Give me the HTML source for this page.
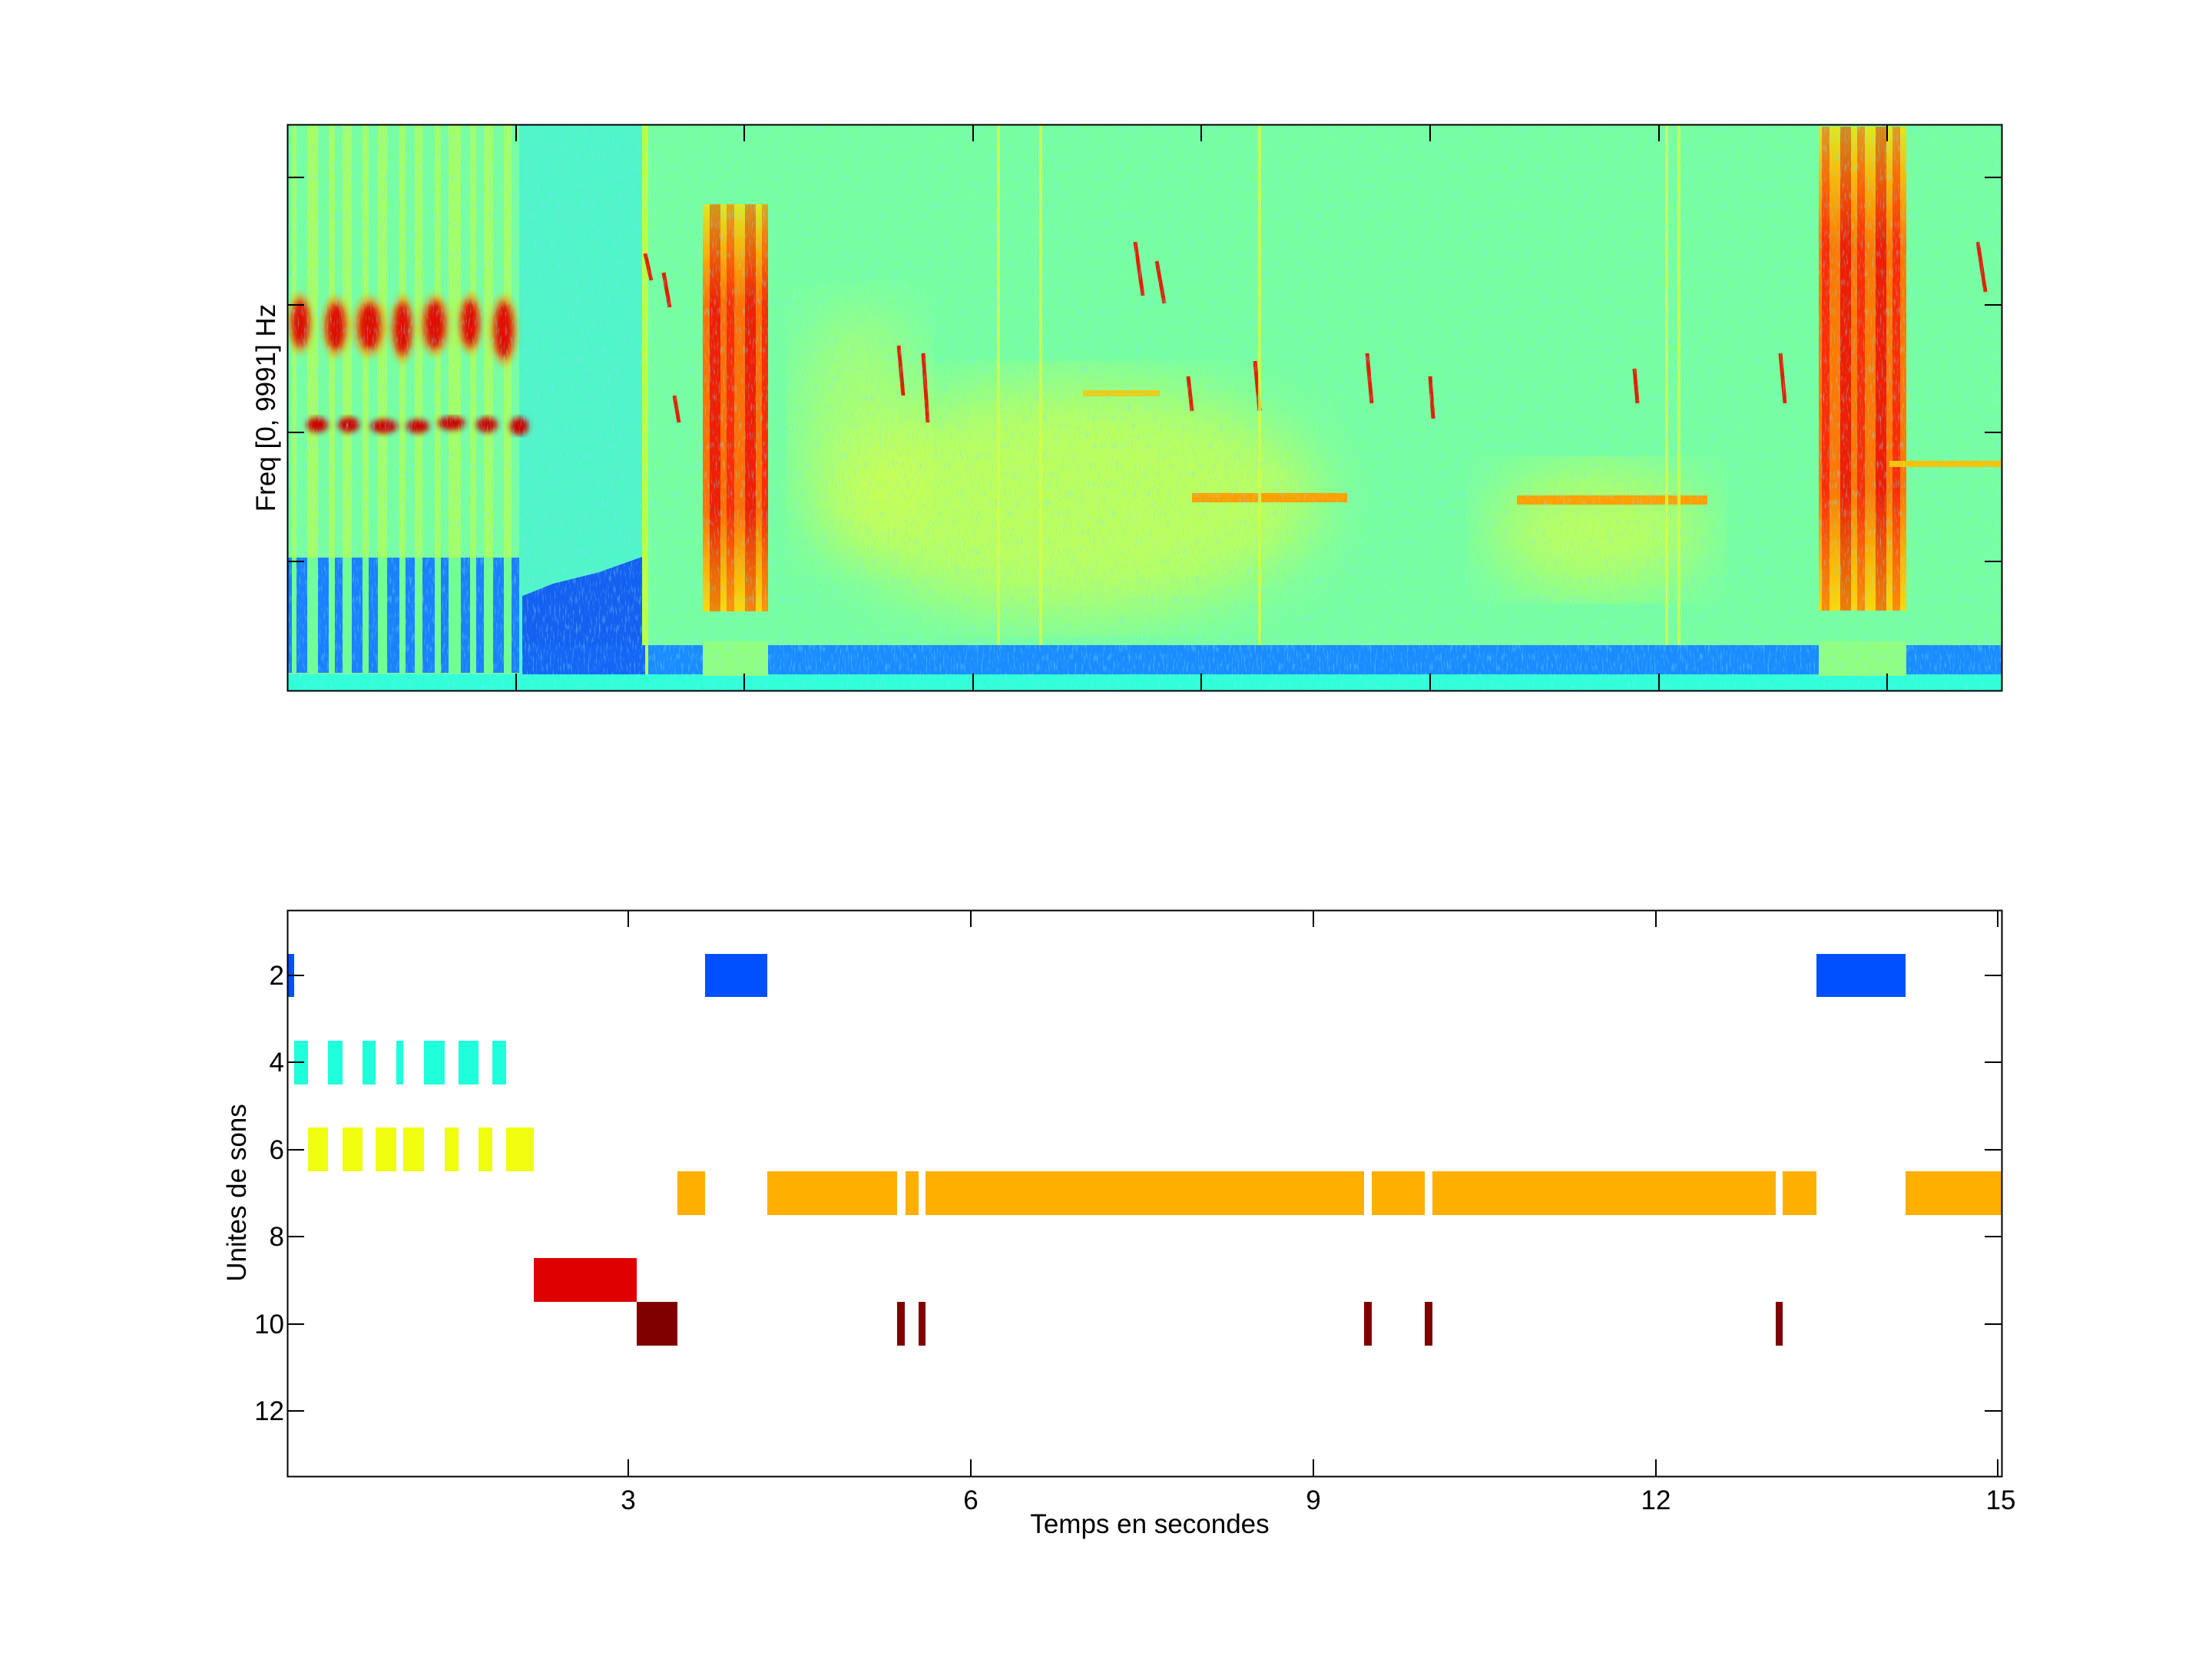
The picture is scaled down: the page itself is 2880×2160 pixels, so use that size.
<!DOCTYPE html>
<html><head><meta charset="utf-8"><style>
html,body{margin:0;padding:0;background:#fff;}
svg{display:block;font-family:"Liberation Sans",sans-serif;}
</style></head><body>
<svg width="2880" height="2160" viewBox="0 0 2880 2160" xmlns="http://www.w3.org/2000/svg">
<defs>
<filter id="noise" x="0" y="0" width="100%" height="100%">
<feTurbulence type="fractalNoise" baseFrequency="0.5 0.08" numOctaves="2" seed="3"/>
<feColorMatrix type="matrix" values="0 0 0 0 0.2  0 0 0 0 0.8  0 0 0 0 1  0 0 0 3 -1.6"/>
</filter>
<filter id="blur4"><feGaussianBlur stdDeviation="4"/></filter>
<filter id="blur40"><feGaussianBlur stdDeviation="40"/></filter>
<clipPath id="c1"><rect x="374" y="162" width="2232" height="737"/></clipPath>
<linearGradient id="bars" x1="0" y1="0" x2="0" y2="1">
<stop offset="0" stop-color="#c8ff30"/><stop offset="0.12" stop-color="#ff9000"/><stop offset="0.25" stop-color="#ff2000"/><stop offset="0.75" stop-color="#ff2000"/><stop offset="0.88" stop-color="#ff9000"/><stop offset="1" stop-color="#ffe000"/>
</linearGradient>
<pattern id="stripes" width="46" height="10" patternUnits="userSpaceOnUse">
<rect width="46" height="10" fill="#ffd000"/><rect x="4" width="14" height="10" fill="#e01000"/><rect x="26" width="10" height="10" fill="#ff3000"/>
</pattern>
</defs>

<g clip-path="url(#c1)">
<rect x="374" y="162" width="2232" height="737" fill="#78ffa0"/>
<rect x="676" y="162" width="160" height="737" fill="#50f5c8"/>
<g fill="#b8ff50" opacity="0.7">
<rect x="380" y="162" width="6" height="700"/><rect x="400" y="162" width="14" height="700"/><rect x="428" y="162" width="8" height="700"/><rect x="446" y="162" width="12" height="700"/><rect x="472" y="162" width="8" height="700"/><rect x="492" y="162" width="12" height="700"/><rect x="520" y="162" width="8" height="700"/><rect x="540" y="162" width="10" height="700"/><rect x="566" y="162" width="8" height="700"/><rect x="584" y="162" width="16" height="700"/><rect x="612" y="162" width="8" height="700"/><rect x="630" y="162" width="12" height="700"/><rect x="656" y="162" width="10" height="700"/>
</g>
<ellipse cx="1400" cy="650" rx="320" ry="150" fill="#e8ff30" opacity="0.6" filter="url(#blur40)"/>
<ellipse cx="2080" cy="690" rx="140" ry="80" fill="#e8ff30" opacity="0.6" filter="url(#blur40)"/>
<ellipse cx="1120" cy="560" rx="80" ry="160" fill="#e0ff40" opacity="0.45" filter="url(#blur40)"/>
<g>
<rect x="374" y="726" width="302" height="150" fill="#1a80ff"/>
<g fill="#70ff90">
<rect x="380" y="726" width="6" height="150"/><rect x="400" y="726" width="14" height="150"/><rect x="428" y="726" width="8" height="150"/><rect x="446" y="726" width="12" height="150"/><rect x="472" y="726" width="8" height="150"/><rect x="492" y="726" width="12" height="150"/><rect x="520" y="726" width="8" height="150"/><rect x="540" y="726" width="10" height="150"/><rect x="566" y="726" width="8" height="150"/><rect x="584" y="726" width="16" height="150"/><rect x="612" y="726" width="8" height="150"/><rect x="630" y="726" width="12" height="150"/><rect x="656" y="726" width="10" height="150"/>
</g>
</g>
<polygon points="680,776 720,760 780,745 836,725 836,880 680,880" fill="#1460f0"/>
<rect x="836" y="162" width="8" height="737" fill="#c0ff40"/>
<rect x="844" y="840" width="1762" height="38" fill="#1a8cff"/>
<rect x="680" y="840" width="160" height="38" fill="#1466f5"/>
<rect x="374" y="878" width="2232" height="21" fill="#30ffd8"/>
<rect x="915" y="835" width="85" height="45" fill="#90ff80"/>
<rect x="2368" y="835" width="114" height="45" fill="#90ff80"/>
<rect x="915" y="266" width="85" height="530" fill="url(#stripes)" opacity="0.95"/>
<rect x="915" y="266" width="85" height="530" fill="url(#bars)" opacity="0.55"/>
<rect x="2368" y="165" width="114" height="630" fill="url(#stripes)" opacity="0.95"/>
<rect x="2368" y="165" width="114" height="630" fill="url(#bars)" opacity="0.5"/>
<g fill="#ff9000" opacity="0.6" filter="url(#blur4)">
<ellipse cx="391" cy="421" rx="16" ry="40"/><ellipse cx="437" cy="425" rx="18" ry="40"/><ellipse cx="481" cy="425" rx="22" ry="40"/><ellipse cx="524" cy="428" rx="16" ry="44"/><ellipse cx="566" cy="423" rx="20" ry="40"/><ellipse cx="612" cy="421" rx="16" ry="40"/><ellipse cx="656" cy="430" rx="18" ry="46"/>
</g>
<g fill="#e01000" filter="url(#blur4)">
<ellipse cx="391" cy="421" rx="11" ry="30"/><ellipse cx="437" cy="425" rx="12" ry="30"/><ellipse cx="481" cy="425" rx="14" ry="30"/><ellipse cx="524" cy="428" rx="11" ry="34"/><ellipse cx="566" cy="423" rx="13" ry="31"/><ellipse cx="612" cy="421" rx="11" ry="30"/><ellipse cx="656" cy="430" rx="12" ry="36"/>
</g>
<g fill="#cc0000" filter="url(#blur4)">
<ellipse cx="413" cy="553" rx="14" ry="10"/><ellipse cx="454" cy="553" rx="14" ry="10"/><ellipse cx="500" cy="555" rx="18" ry="9"/><ellipse cx="544" cy="555" rx="15" ry="9"/><ellipse cx="588" cy="551" rx="18" ry="9"/><ellipse cx="634" cy="553" rx="14" ry="10"/><ellipse cx="676" cy="555" rx="12" ry="12"/>
</g>
<rect x="1552" y="642" width="202" height="12" fill="#ffa000"/>
<rect x="1975" y="645" width="248" height="12" fill="#ffa000"/>
<rect x="1410" y="508" width="100" height="8" fill="#ffc000" opacity="0.8"/>
<rect x="2460" y="600" width="146" height="8" fill="#ffc000"/>
<g stroke="#e02000" stroke-width="5" fill="none">
<line x1="840" y1="330" x2="848" y2="365"/><line x1="864" y1="355" x2="872" y2="400"/><line x1="878" y1="515" x2="884" y2="550"/>
<line x1="1170" y1="450" x2="1176" y2="515"/><line x1="1202" y1="460" x2="1208" y2="550"/>
<line x1="1478" y1="315" x2="1488" y2="385"/><line x1="1506" y1="340" x2="1516" y2="395"/>
<line x1="1547" y1="490" x2="1552" y2="535"/><line x1="1634" y1="470" x2="1640" y2="535"/>
<line x1="1780" y1="460" x2="1786" y2="525"/><line x1="1862" y1="490" x2="1866" y2="545"/>
<line x1="2128" y1="480" x2="2132" y2="525"/><line x1="2318" y1="460" x2="2324" y2="525"/>
<line x1="2575" y1="315" x2="2585" y2="380"/>
</g>
<g stroke="#d8ff40" stroke-width="4" opacity="0.8">
<line x1="1300" y1="162" x2="1300" y2="840"/><line x1="1355" y1="162" x2="1355" y2="840"/><line x1="1640" y1="162" x2="1640" y2="840"/><line x1="2170" y1="162" x2="2170" y2="840"/><line x1="2186" y1="162" x2="2186" y2="840"/>
</g>
<rect x="374" y="162" width="2232" height="737" filter="url(#noise)" opacity="0.5"/>
</g>
<rect x="374.5" y="162.5" width="2232" height="737" fill="none" stroke="#000" stroke-width="2"/>
<g stroke="#000" stroke-width="2">
<line x1="672" y1="162" x2="672" y2="184"/><line x1="969" y1="162" x2="969" y2="184"/><line x1="1267" y1="162" x2="1267" y2="184"/><line x1="1564" y1="162" x2="1564" y2="184"/><line x1="1862" y1="162" x2="1862" y2="184"/><line x1="2160" y1="162" x2="2160" y2="184"/><line x1="2457" y1="162" x2="2457" y2="184"/>
<line x1="672" y1="899" x2="672" y2="877"/><line x1="969" y1="899" x2="969" y2="877"/><line x1="1267" y1="899" x2="1267" y2="877"/><line x1="1564" y1="899" x2="1564" y2="877"/><line x1="1862" y1="899" x2="1862" y2="877"/><line x1="2160" y1="899" x2="2160" y2="877"/><line x1="2457" y1="899" x2="2457" y2="877"/>
<line x1="374" y1="231" x2="396" y2="231"/><line x1="374" y1="397" x2="396" y2="397"/><line x1="374" y1="563" x2="396" y2="563"/><line x1="374" y1="731" x2="396" y2="731"/>
<line x1="2606" y1="231" x2="2584" y2="231"/><line x1="2606" y1="397" x2="2584" y2="397"/><line x1="2606" y1="563" x2="2584" y2="563"/><line x1="2606" y1="731" x2="2584" y2="731"/>
</g>
<text x="0" y="0" font-size="35" text-anchor="middle" transform="translate(358,531) rotate(-90)">Freq [0, 9991] Hz</text>

<g>
<rect x="374" y="1242" width="9" height="56" fill="#0050ff"/>
<rect x="918" y="1242" width="81" height="56" fill="#0050ff"/>
<rect x="2365" y="1242" width="116" height="56" fill="#0050ff"/>
<g fill="#20ffdc">
<rect x="383" y="1355" width="18" height="57"/><rect x="427" y="1355" width="19" height="57"/><rect x="472" y="1355" width="17" height="57"/><rect x="516" y="1355" width="9" height="57"/><rect x="552" y="1355" width="27" height="57"/><rect x="597" y="1355" width="26" height="57"/><rect x="641" y="1355" width="18" height="57"/>
</g>
<g fill="#f0ff10">
<rect x="401" y="1468" width="26" height="57"/><rect x="446" y="1468" width="26" height="57"/><rect x="489" y="1468" width="27" height="57"/><rect x="525" y="1468" width="27" height="57"/><rect x="579" y="1468" width="18" height="57"/><rect x="623" y="1468" width="18" height="57"/><rect x="659" y="1468" width="36" height="57"/>
</g>
<g fill="#ffaf00">
<rect x="882" y="1525" width="36" height="57"/><rect x="999" y="1525" width="169" height="57"/><rect x="1179" y="1525" width="17" height="57"/><rect x="1205" y="1525" width="571" height="57"/><rect x="1786" y="1525" width="69" height="57"/><rect x="1865" y="1525" width="447" height="57"/><rect x="2321" y="1525" width="44" height="57"/><rect x="2481" y="1525" width="125" height="57"/>
</g>
<rect x="695" y="1638" width="134" height="57" fill="#df0000"/>
<g fill="#800000">
<rect x="829" y="1695" width="53" height="57"/><rect x="1168" y="1695" width="10" height="57"/><rect x="1196" y="1695" width="9" height="57"/><rect x="1776" y="1695" width="10" height="57"/><rect x="1855" y="1695" width="10" height="57"/><rect x="2312" y="1695" width="9" height="57"/>
</g>
</g>
<rect x="374.5" y="1185.5" width="2232" height="737" fill="none" stroke="#000" stroke-width="2"/>
<g stroke="#000" stroke-width="2">
<line x1="818" y1="1185" x2="818" y2="1207"/><line x1="1264" y1="1185" x2="1264" y2="1207"/><line x1="1710" y1="1185" x2="1710" y2="1207"/><line x1="2156" y1="1185" x2="2156" y2="1207"/><line x1="2601" y1="1185" x2="2601" y2="1207"/>
<line x1="818" y1="1922" x2="818" y2="1900"/><line x1="1264" y1="1922" x2="1264" y2="1900"/><line x1="1710" y1="1922" x2="1710" y2="1900"/><line x1="2156" y1="1922" x2="2156" y2="1900"/><line x1="2601" y1="1922" x2="2601" y2="1900"/>
<line x1="374" y1="1270" x2="396" y2="1270"/><line x1="374" y1="1383" x2="396" y2="1383"/><line x1="374" y1="1497" x2="396" y2="1497"/><line x1="374" y1="1610" x2="396" y2="1610"/><line x1="374" y1="1724" x2="396" y2="1724"/><line x1="374" y1="1837" x2="396" y2="1837"/>
<line x1="2606" y1="1270" x2="2584" y2="1270"/><line x1="2606" y1="1383" x2="2584" y2="1383"/><line x1="2606" y1="1497" x2="2584" y2="1497"/><line x1="2606" y1="1610" x2="2584" y2="1610"/><line x1="2606" y1="1724" x2="2584" y2="1724"/><line x1="2606" y1="1837" x2="2584" y2="1837"/>
</g>
<g font-size="35" text-anchor="end">
<text x="370" y="1282">2</text><text x="370" y="1395">4</text><text x="370" y="1509">6</text><text x="370" y="1622">8</text><text x="370" y="1736">10</text><text x="370" y="1849">12</text>
</g>
<g font-size="35" text-anchor="middle">
<text x="818" y="1965">3</text><text x="1264" y="1965">6</text><text x="1710" y="1965">9</text><text x="2156" y="1965">12</text><text x="2605" y="1965">15</text>
<text x="1497" y="1996">Temps en secondes</text>
<text transform="translate(320,1553) rotate(-90)">Unites de sons</text>
</g>
</svg>
</body></html>
